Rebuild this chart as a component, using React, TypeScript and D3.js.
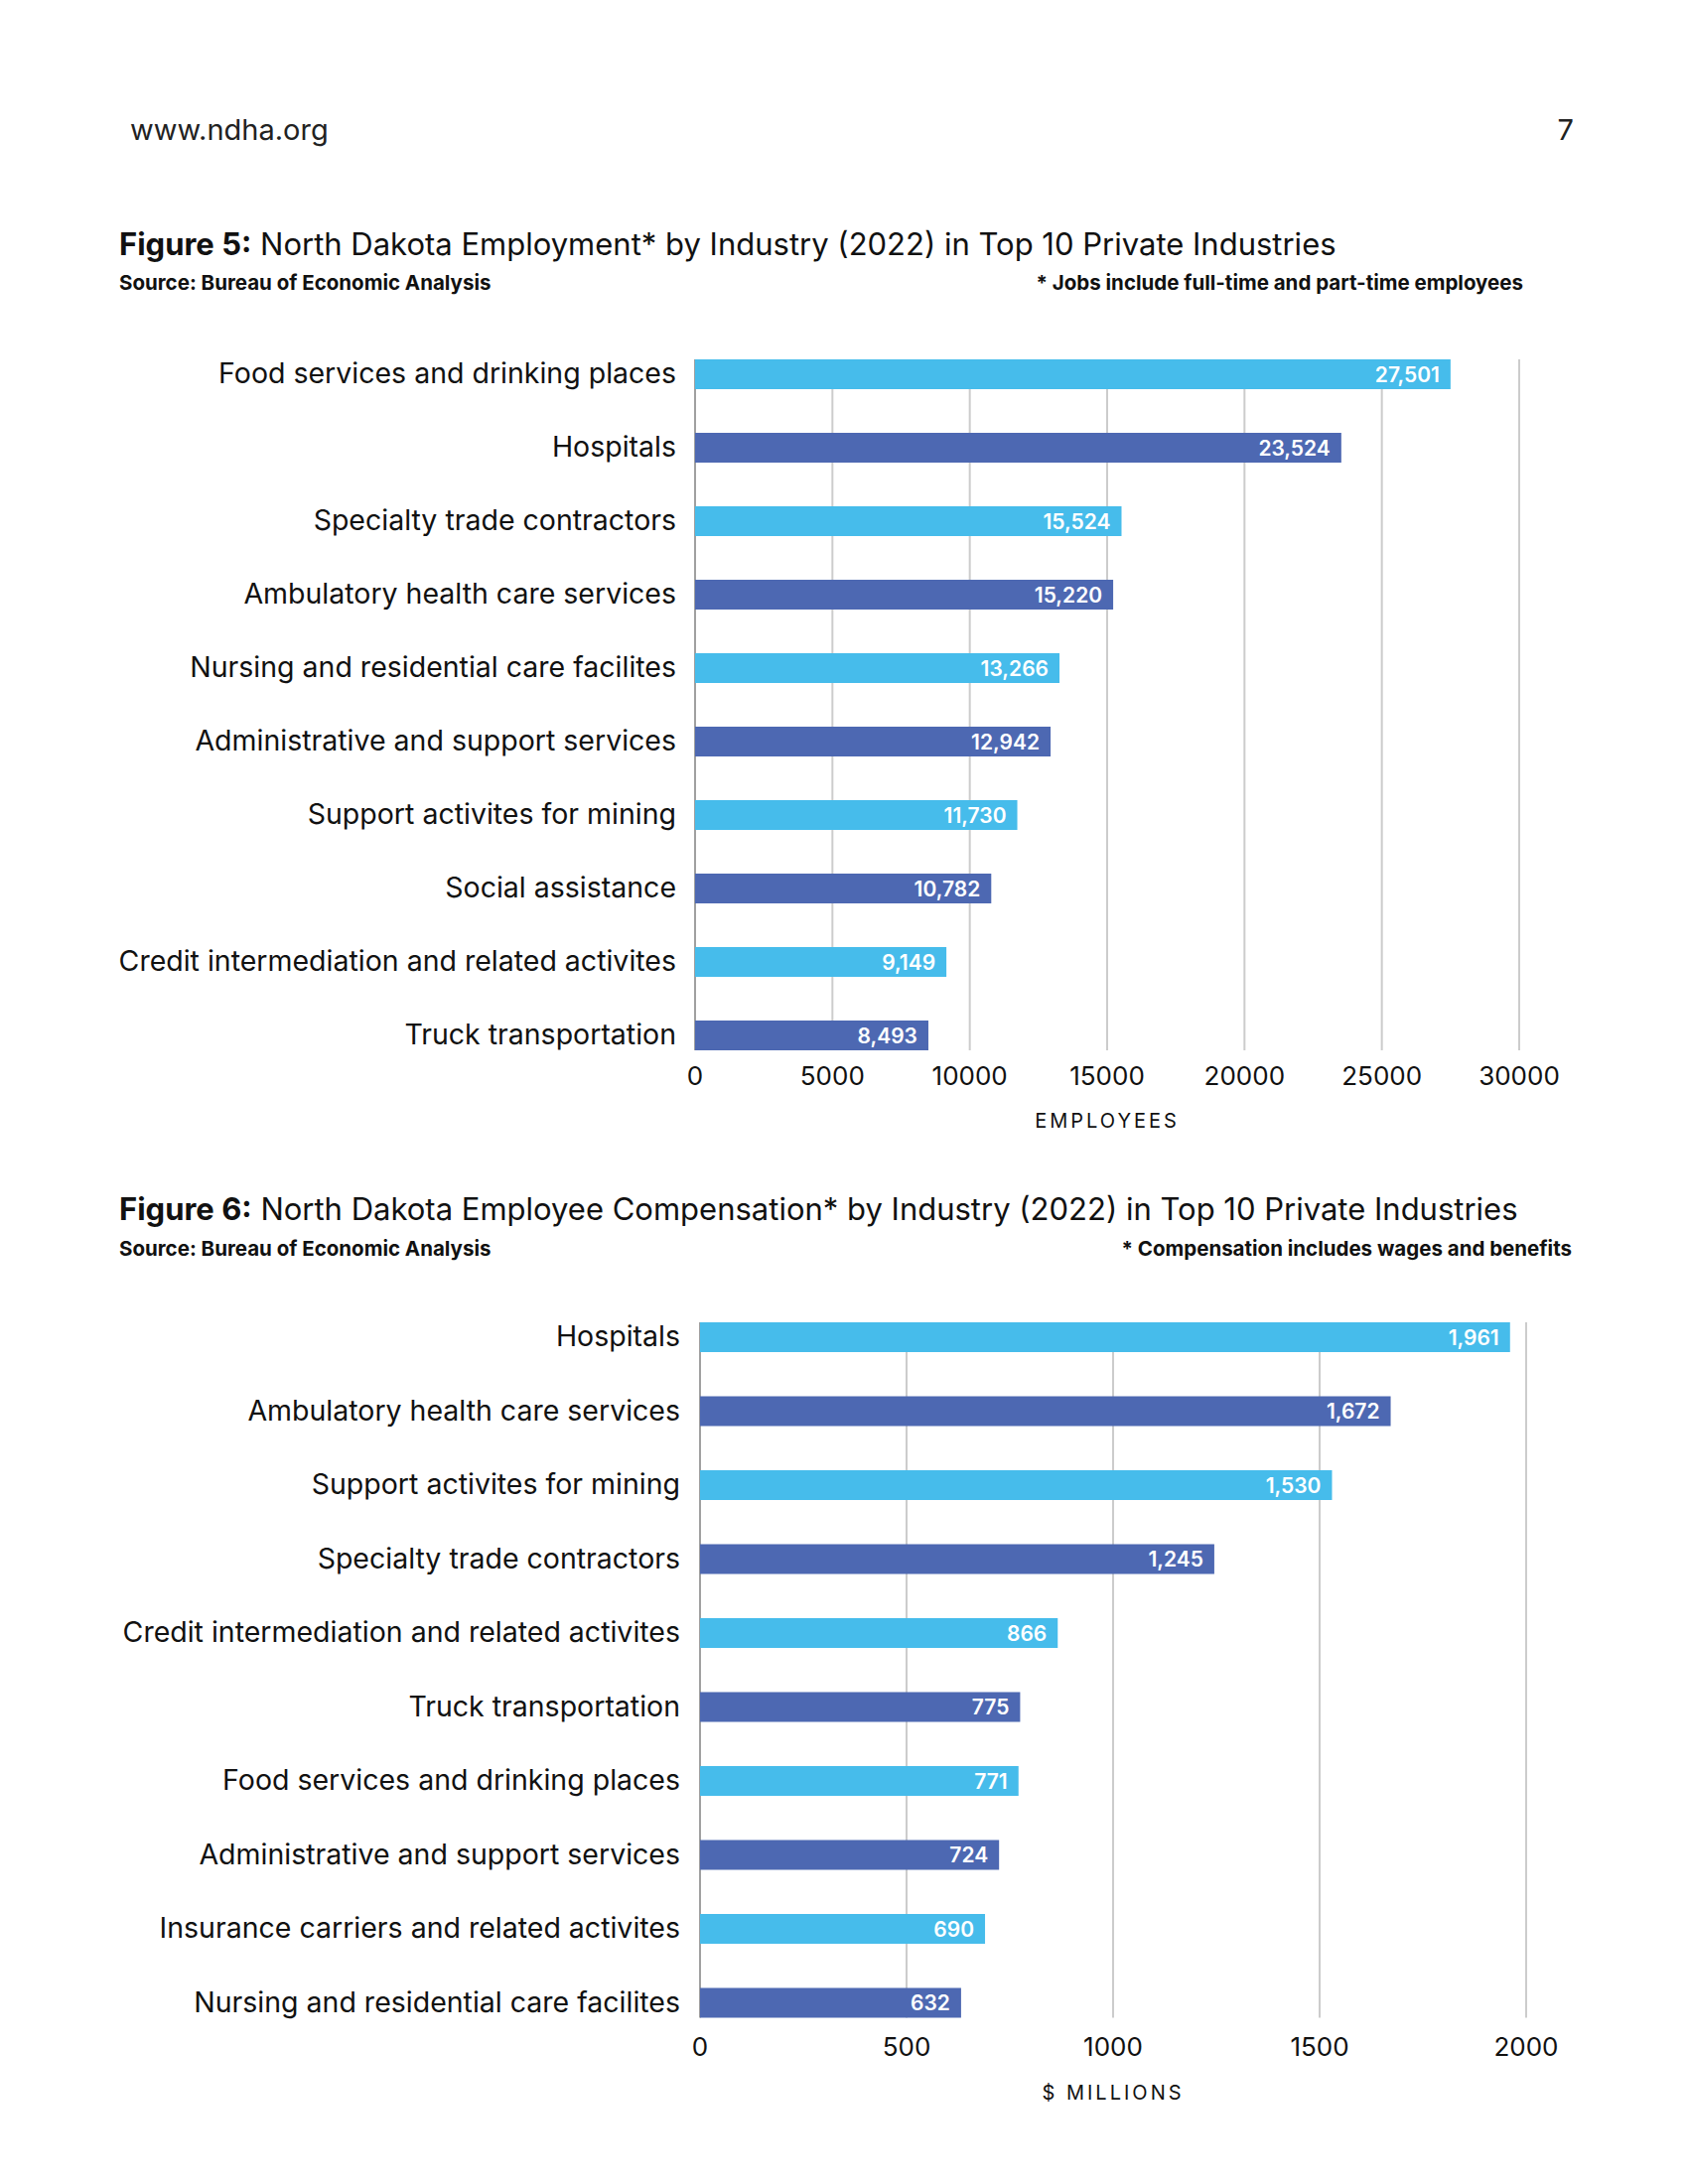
import React from "react";
import * as d3 from "d3";

const categories1 = [
  "Food services and drinking places",
  "Hospitals",
  "Specialty trade contractors",
  "Ambulatory health care services",
  "Nursing and residential care facilites",
  "Administrative and support services",
  "Support activites for mining",
  "Social assistance",
  "Credit intermediation and related activites",
  "Truck transportation",
];
const values1 = [27501, 23524, 15524, 15220, 13266, 12942, 11730, 10782, 9149, 8493];
const ticks1 = [0, 5000, 10000, 15000, 20000, 25000, 30000];

const categories2 = [
  "Hospitals",
  "Ambulatory health care services",
  "Support activites for mining",
  "Specialty trade contractors",
  "Credit intermediation and related activites",
  "Truck transportation",
  "Food services and drinking places",
  "Administrative and support services",
  "Insurance carriers and related activites",
  "Nursing and residential care facilites",
];
const values2 = [1961, 1672, 1530, 1245, 866, 775, 771, 724, 690, 632];
const ticks2 = [0, 500, 1000, 1500, 2000];

const FONT = "Inter, 'Liberation Sans', Arial, sans-serif";
const LIGHT = "#46BCEB";
const DARK = "#4D68B2";

type ChartProps = {
  categories: string[];
  values: number[];
  ticks: number[];
  x0: number;
  x1: number;
  yTop: number;
  step: number;
  barH: number;
  labelRight: number;
  tickY: number;
  axisTitle: string;
  axisTitleY: number;
};

function BarChart(p: ChartProps) {
  const max = p.ticks[p.ticks.length - 1];
  const x = d3.scaleLinear().domain([0, max]).range([p.x0, p.x1]);
  const pad = (p.step - p.barH) / p.step;
  const y = d3
    .scaleBand<string>()
    .domain(p.categories)
    .range([p.yTop, p.yTop + 9 * p.step + p.barH])
    .paddingInner(pad)
    .paddingOuter(0);
  const gridTop = p.yTop;
  const gridBottom = p.yTop + 9 * p.step + p.barH;
  const fmt = d3.format(",");
  return (
    <g>
      {p.ticks.slice(1).map((t) => (
        <line key={t} x1={x(t)} x2={x(t)} y1={gridTop} y2={gridBottom} stroke="#CCCCCC" strokeWidth={2} />
      ))}
      <line x1={x(0)} x2={x(0)} y1={gridTop} y2={gridBottom} stroke="#A0A0A0" strokeWidth={2} />
      {p.categories.map((c, i) => {
        const yy = y(c)!;
        const w = x(p.values[i]) - x(0);
        return (
          <g key={c}>
            <rect x={x(0)} y={yy} width={w} height={y.bandwidth()} fill={i % 2 === 0 ? LIGHT : DARK} />
            <text
              x={p.labelRight}
              y={yy + y.bandwidth() / 2 - 1}
              dy="0.36em"
              textAnchor="end"
              fontFamily={FONT}
              fontSize={28.5}
              fill="#111"
            >
              {c}
            </text>
            <text
              x={x(p.values[i]) - 11}
              y={yy + y.bandwidth() / 2}
              dy="0.36em"
              textAnchor="end"
              fontFamily={FONT}
              fontSize={21}
              fontWeight={600}
              fill="#FFFFFF"
            >
              {fmt(p.values[i])}
            </text>
          </g>
        );
      })}
      {p.ticks.map((t) => (
        <text key={"t" + t} x={x(t)} y={p.tickY} dy="0.36em" textAnchor="middle" fontFamily={FONT} fontSize={26} fill="#111">
          {t}
        </text>
      ))}
      <text
        x={(p.x0 + p.x1) / 2}
        y={p.axisTitleY}
        dy="0.36em"
        textAnchor="middle"
        fontFamily={FONT}
        fontSize={20}
        letterSpacing={3}
        fill="#111"
      >
        {p.axisTitle}
      </text>
    </g>
  );
}

export default function App() {
  return (
    <div style={{ position: "absolute", left: 0, top: 0 }}>
      <svg width={1700} height={2200} viewBox="0 0 1700 2200" style={{ display: "block", background: "#fff" }}>
        <rect width={1700} height={2200} fill="#fff" />
        <text x={131} y={131} dy="0.36em" fontFamily={FONT} fontSize={29} fill="#222">
          www.ndha.org
        </text>
        <text x={1585} y={131} dy="0.36em" textAnchor="end" fontFamily={FONT} fontSize={29} fill="#222">
          7
        </text>

        <text x={120} y={246} dy="0.36em" fontFamily={FONT} fontSize={31} fill="#111">
          <tspan fontWeight="bold">Figure 5:</tspan> North Dakota Employment* by Industry (2022) in Top 10 Private Industries
        </text>
        <text x={120} y={285} dy="0.36em" fontFamily={FONT} fontSize={20.5} fontWeight={700} fill="#111">
          Source: Bureau of Economic Analysis
        </text>
        <text x={1534} y={285} dy="0.36em" textAnchor="end" fontFamily={FONT} fontSize={20.5} fontWeight={700} fill="#111">
          * Jobs include full-time and part-time employees
        </text>

        <BarChart
          categories={categories1}
          values={values1}
          ticks={ticks1}
          x0={700}
          x1={1530}
          yTop={362}
          step={74}
          barH={30}
          labelRight={681}
          tickY={1084}
          axisTitle="EMPLOYEES"
          axisTitleY={1129}
        />

        <text x={120} y={1218} dy="0.36em" fontFamily={FONT} fontSize={31} fill="#111">
          <tspan fontWeight="bold">Figure 6:</tspan> North Dakota Employee Compensation* by Industry (2022) in Top 10 Private Industries
        </text>
        <text x={120} y={1258} dy="0.36em" fontFamily={FONT} fontSize={20.5} fontWeight={700} fill="#111">
          Source: Bureau of Economic Analysis
        </text>
        <text x={1583} y={1258} dy="0.36em" textAnchor="end" fontFamily={FONT} fontSize={20.5} fontWeight={700} fill="#111">
          * Compensation includes wages and benefits
        </text>

        <BarChart
          categories={categories2}
          values={values2}
          ticks={ticks2}
          x0={705}
          x1={1537}
          yTop={1332}
          step={74.5}
          barH={30}
          labelRight={685}
          tickY={2062}
          axisTitle="$ MILLIONS"
          axisTitleY={2108}
        />
      </svg>
    </div>
  );
}
